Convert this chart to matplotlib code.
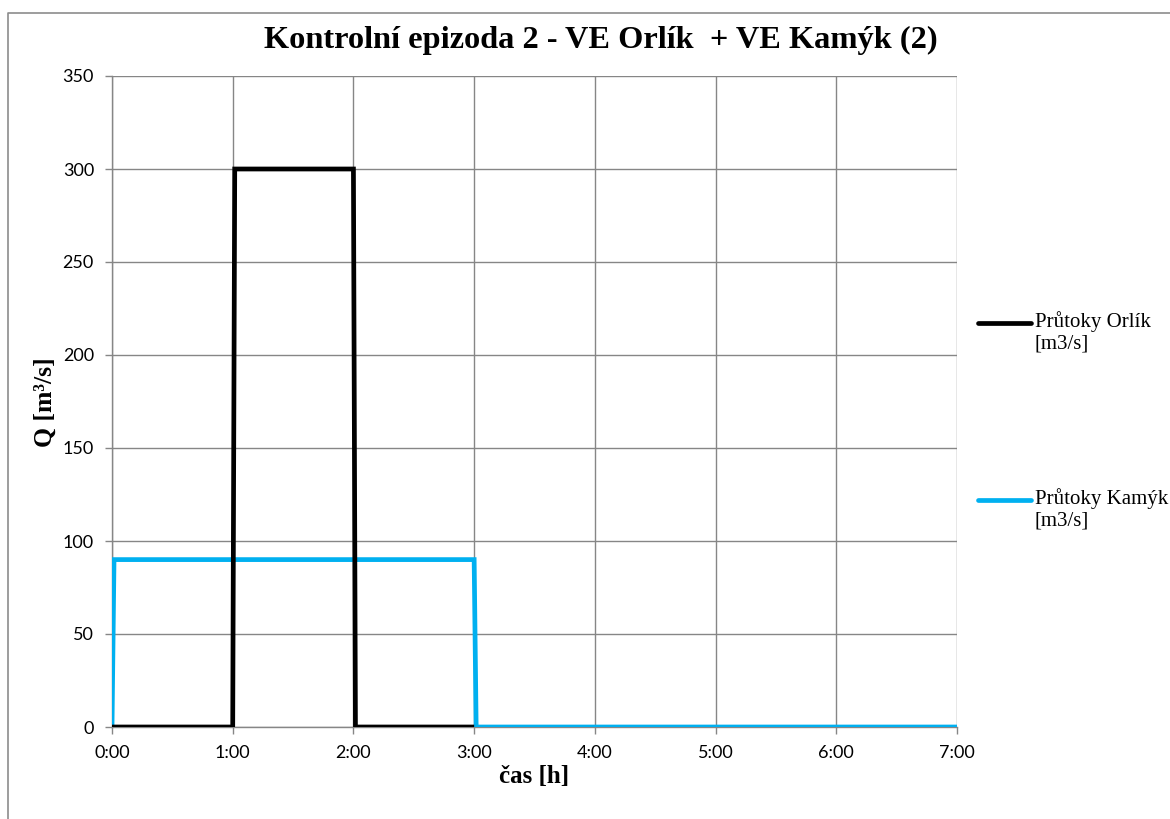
import matplotlib
matplotlib.use("Agg")
import matplotlib.pyplot as plt
from matplotlib.lines import Line2D

# Time in minutes from the start of the episode
orlik_t = [0, 60, 61, 120, 121, 180]
orlik_q = [0, 0, 300, 300, 0, 0]

kamyk_t = [0, 1, 180, 181, 420]
kamyk_q = [0, 90, 90, 0, 0]

x_ticks = [0, 60, 120, 180, 240, 300, 360, 420]
x_tick_labels = ["0:00", "1:00", "2:00", "3:00", "4:00", "5:00", "6:00", "7:00"]
y_ticks = [0, 50, 100, 150, 200, 250, 300, 350]

title = "Kontrolní epizoda 2 - VE Orlík  + VE Kamýk (2)"
series_names = ["Průtoky Orlík\n[m3/s]", "Průtoky Kamýk\n[m3/s]"]

W, H = 1170, 819
fig = plt.figure(figsize=(W / 100, H / 100), dpi=100)
ax = fig.add_axes([112 / W, 1 - 727 / H, (957 - 112) / W, (727 - 76) / H])

grid_col = "#868686"
black = "#000000"
blue = "#00b0f0"
lw = 3.4

ax.plot(kamyk_t, kamyk_q, color=blue, lw=lw, solid_joinstyle="miter",
        solid_capstyle="butt", zorder=3)
ax.plot(orlik_t, orlik_q, color=black, lw=lw, solid_joinstyle="miter",
        solid_capstyle="butt", zorder=4)

ax.set_xlim(0, 420)
ax.set_ylim(0, 350)
ax.set_xticks(x_ticks)
ax.set_xticklabels(x_tick_labels)
ax.set_yticks(y_ticks)
ax.grid(True, color=grid_col, lw=1.0, zorder=0)
ax.set_axisbelow(True)
for s in ["top", "right"]:
    ax.spines[s].set_visible(False)
for s in ["left", "bottom"]:
    ax.spines[s].set_color(grid_col)
    ax.spines[s].set_linewidth(1.0)
ax.tick_params(axis="both", direction="out", length=5, width=1.0,
               color=grid_col, labelsize=13)
ax.tick_params(axis="y", pad=8)
ax.tick_params(axis="x", pad=8)
for lab in ax.get_xticklabels() + ax.get_yticklabels():
    lab.set_fontfamily("Lato")

serif = "Liberation Serif"
fig.text(601 / W, 1 - 48 / H, title, ha="center", va="baseline",
         fontsize=23.3, fontweight="bold", family=serif)
fig.text(534 / W, 1 - 777 / H, "čas [h]", ha="center", va="center",
         fontsize=18, fontweight="bold", family=serif)
fig.text(45 / W, 1 - 402 / H, "Q [m³/s]", ha="center", va="center",
         rotation=90, fontsize=18.5, fontweight="bold", family=serif)

# Legend entries at the right of the plot area
for name, col, yy in [(series_names[0], black, 323), (series_names[1], blue, 500)]:
    fig.add_artist(Line2D([978 / W, 1031 / W], [1 - yy / H, 1 - yy / H],
                          color=col, lw=lw, solid_capstyle="round"))
    fig.text(1035 / W, 1 - (yy - 12) / H, name, ha="left", va="top",
             fontsize=15, family=serif, linespacing=1.15)

# Chart area frame
fig.add_artist(Line2D([8 / W, 8 / W, 1.0], [0.0, 1 - 13 / H, 1 - 13 / H],
                      color="#8c8c8c", lw=1.2))

fig.savefig("out.png", dpi=100, facecolor="white")
